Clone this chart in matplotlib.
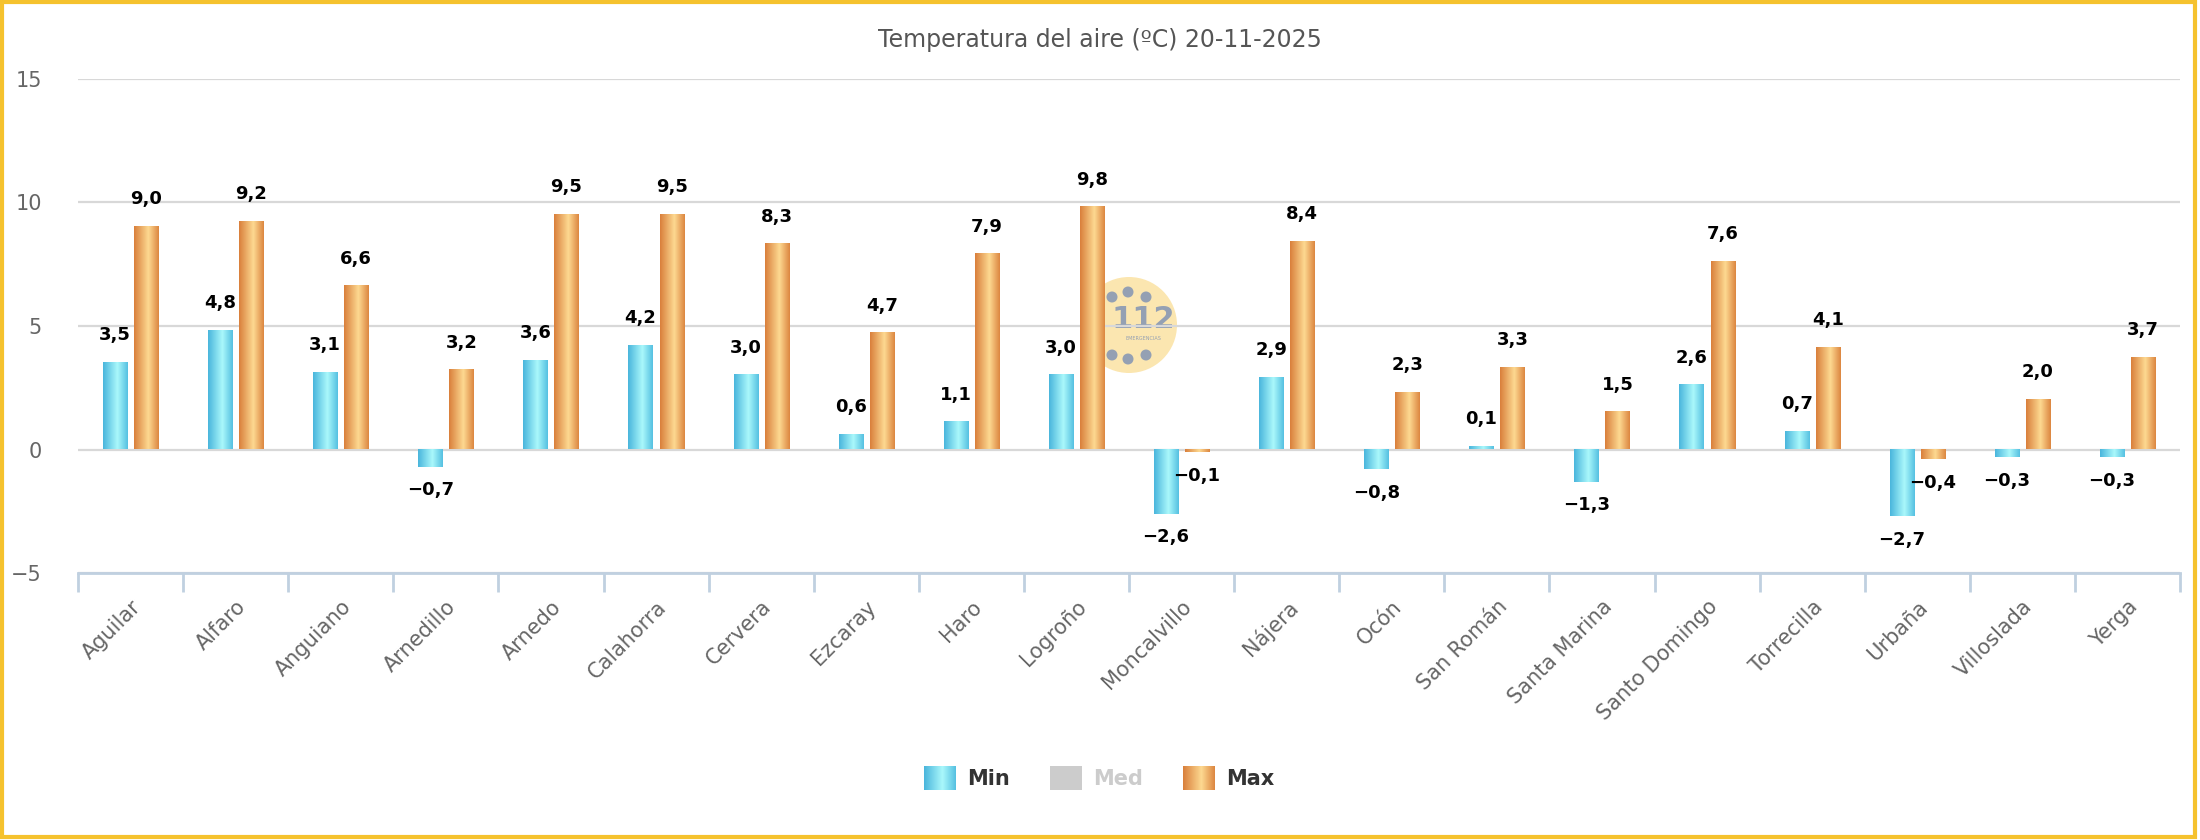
#!/usr/bin/env python3

import matplotlib
matplotlib.use("Agg")
import matplotlib.pyplot as plt
import numpy as np
from matplotlib.colors import LinearSegmentedColormap
from matplotlib.patches import Circle, Rectangle

TITLE = "Temperatura del aire (ºC) 20-11-2025"

stations = [
    "Aguilar", "Alfaro", "Anguiano", "Arnedillo", "Arnedo", "Calahorra",
    "Cervera", "Ezcaray", "Haro", "Logroño", "Moncalvillo", "Nájera", "Ocón",
    "San Román", "Santa Marina", "Santo Domingo", "Torrecilla", "Urbaña",
    "Villoslada", "Yerga",
]
t_min = [3.5, 4.8, 3.1, -0.7, 3.6, 4.2, 3.0, 0.6, 1.1, 3.0,
         -2.6, 2.9, -0.8, 0.1, -1.3, 2.6, 0.7, -2.7, -0.3, -0.3]
t_med = []  # series hidden in the legend
t_max = [9.0, 9.2, 6.6, 3.2, 9.5, 9.5, 8.3, 4.7, 7.9, 9.8,
         -0.1, 8.4, 2.3, 3.3, 1.5, 7.6, 4.1, -0.4, 2.0, 3.7]
y_ticks = [-5, 0, 5, 10, 15]

W, H = 2200, 840

min_cmap = LinearSegmentedColormap.from_list(
    "min", [(0, "#49B5DC"), (0.58, "#AAF8FB"), (1, "#55C0E1")])
max_cmap = LinearSegmentedColormap.from_list(
    "max", [(0, "#D97F3B"), (0.58, "#FDD991"), (1, "#DC8640")])

GRAD = np.linspace(0, 1, 128).reshape(1, -1)


def fmt(v):
    return f"{v:.1f}".replace(".", ",").replace("-", "\u2212")


def paint_bars(ax, bars, cmap):
    for b in bars:
        x, y = b.get_x(), b.get_y()
        w, h = b.get_width(), b.get_height()
        ax.imshow(GRAD, cmap=cmap, extent=[x, x + w, y, y + h],
                  aspect="auto", interpolation="bilinear", zorder=2)
        b.set_visible(False)


def label_bars(ax, xs, vals):
    for x, v in zip(xs, vals):
        ax.annotate(fmt(v), (x, v), xytext=(0, 20 if v >= 0 else -17),
                    textcoords="offset points", ha="center", va="center",
                    fontsize=13, fontweight="bold", color="#000000", zorder=5)


def draw_background(bg):
    # pixel overlay: border, watermark, legend
    bg.set_xlim(0, W)
    bg.set_ylim(H, 0)
    bg.axis("off")

    bg.add_patch(Rectangle((2, 2), W - 7, H - 5, fill=False,
                           edgecolor="#F5C22E", linewidth=3))

    # 112 watermark
    bg.add_patch(Circle((1129, 325), 48, color="#FBE2A2", alpha=0.85, lw=0))
    for dx, dy in [(1112, 297), (1128, 292), (1146, 297),
                   (1112, 355), (1128, 359), (1146, 355)]:
        bg.add_patch(Circle((dx, dy), 5.5, color="#94A0B3", lw=0))
    bg.text(1143, 319, "112", ha="center", va="center", fontsize=22,
            fontweight="bold", color="#94A0B3")
    bg.text(1143, 338, "EMERGENCIAS", ha="center", va="center", fontsize=3.5,
            color="#94A0B3")

    # legend
    items = [("Min", min_cmap, "#333333", 924),
             ("Med", None, "#CCCCCC", 1050),
             ("Max", max_cmap, "#333333", 1183)]
    for name, cmap, tcol, x0 in items:
        if cmap is None:
            bg.add_patch(Rectangle((x0, 766), 32, 24, color="#CCCCCC", lw=0))
        else:
            bg.imshow(GRAD, cmap=cmap, extent=[x0, x0 + 32, 790, 766],
                      aspect="auto", interpolation="bilinear")
        bg.text(x0 + 43, 779, name, ha="left", va="center", fontsize=15,
                fontweight="bold", color=tcol)
    bg.set_xlim(0, W)
    bg.set_ylim(H, 0)


def draw_plot():
    fig = plt.figure(figsize=(W / 100, H / 100), dpi=100, facecolor="white")

    bg = fig.add_axes([0, 0, 1, 1], zorder=0)
    draw_background(bg)

    ax = fig.add_axes([78 / W, 1 - 573 / H, (2180 - 78) / W, (573 - 79) / H],
                      zorder=1)
    ax.patch.set_visible(False)

    x = np.arange(len(stations))
    off, bw = 0.148, 0.23

    ax.set_yticks(y_ticks)
    ax.grid(axis="y", color="#D8D8D8", linewidth=1.6, zorder=0)
    ax.set_axisbelow(True)

    bars_min = ax.bar(x - off, t_min, bw, zorder=3)
    bars_max = ax.bar(x + off, t_max, bw, zorder=3)
    paint_bars(ax, bars_min, min_cmap)
    paint_bars(ax, bars_max, max_cmap)
    label_bars(ax, x - off, t_min)
    label_bars(ax, x + off, t_max)

    ax.set_xlim(-0.5, len(stations) - 0.5)
    ax.set_ylim(y_ticks[0], y_ticks[-1])

    for side in ["top", "right", "left"]:
        ax.spines[side].set_visible(False)
    ax.spines["bottom"].set_color("#C0D0E0")
    ax.spines["bottom"].set_linewidth(2)

    ax.set_xticks(np.arange(len(stations) + 1) - 0.5)
    ax.set_xticklabels([])
    ax.tick_params(axis="x", which="major", length=14, width=2, color="#C0D0E0")
    ax.set_xticks(x, minor=True)
    ax.set_xticklabels(stations, minor=True, rotation=45, ha="right",
                       rotation_mode="anchor", fontsize=15, color="#666666")
    ax.tick_params(axis="x", which="minor", length=0, pad=17)

    ax.set_yticklabels([str(t).replace("-", "\u2212") for t in y_ticks],
                       fontsize=15, color="#666666")
    ax.tick_params(axis="y", length=0, pad=26)

    fig.text(0.5, 1 - 40 / H, TITLE, ha="center", va="center", fontsize=17,
             color="#555555")

    fig.savefig("out.png", dpi=100, facecolor="white")


def main():
    draw_plot()


if __name__ == "__main__":
    main()
